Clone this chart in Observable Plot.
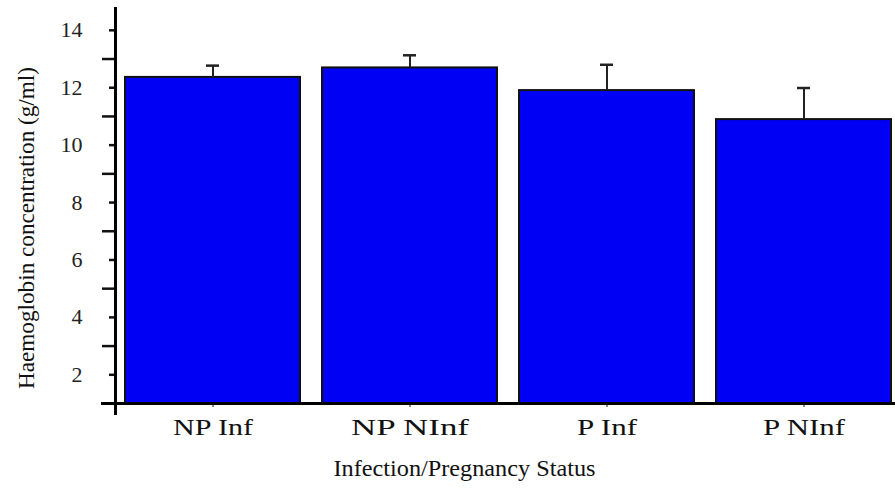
<!DOCTYPE html>
<html>
<head>
<meta charset="utf-8">
<script src="https://cdn.jsdelivr.net/npm/d3@7"></script>
<script src="https://cdn.jsdelivr.net/npm/@observablehq/plot@0.6"></script>
<style>
  html, body { margin: 0; padding: 0; background: #fff; }
  #chart svg { display: block; }
</style>
</head>
<body>
<div id="chart"></div>
<script>
const groups = ["NP Inf", "NP NInf", "P Inf", "P NInf"];
const means = [12.36, 12.69, 11.90, 10.89];
const errors = [0.41, 0.44, 0.90, 1.10];
const majorTicks = [2, 4, 6, 8, 10, 12, 14];
const minorTicks = [3, 5, 7, 9, 11, 13];
const yDomain = [1, 14.76];
const xTitle = "Infection/Pregnancy Status";
const yTitle = "Haemoglobin concentration (g/ml)";

// rendered text widths (px) to mimic the reference's wide serif lettering
const groupLabelWidths = [80, 118, 60, 82];
const titleWidths = {[xTitle]: 262, [yTitle]: 322};

const data = groups.map((g, i) => ({group: g, mean: means[i], upper: means[i] + errors[i]}));
const font = "'Liberation Serif', 'Times New Roman', serif";

const chart = Plot.plot({
  width: 895,
  height: 489,
  marginLeft: 115,
  marginRight: 0,
  marginTop: 8,
  marginBottom: 86,
  style: {fontFamily: font, fontSize: "22px", color: "#111", background: "#fff"},
  x: {domain: groups, paddingInner: 0.11, paddingOuter: 0.025, align: 0.7, axis: null},
  y: {domain: yDomain, axis: null},
  marks: [
    Plot.barY(data, {x: "group", y1: yDomain[0], y2: "mean", fill: "#0000f5", stroke: "#111", strokeWidth: 2}),
    Plot.ruleX(data, {x: "group", y1: "mean", y2: "upper", stroke: "#222", strokeWidth: 2}),
    Plot.tickY(data, {x: "group", y: "upper", stroke: "#222", strokeWidth: 2.5, insetLeft: 81, insetRight: 81}),
    Plot.axisY({ticks: minorTicks, tickSize: 13, tickFormat: () => "", label: null, strokeWidth: 2.5, stroke: "#111"}),
    Plot.axisY({ticks: majorTicks, tickSize: 6, tickFormat: () => "", label: null, strokeWidth: 2.5, stroke: "#111"}),
    Plot.text(majorTicks, {frameAnchor: "left", y: d => d, text: d => String(d), textAnchor: "end", dx: -33, fontSize: 22, fill: "#222"}),
    Plot.axisX({tickSize: 4, tickPadding: 11, label: null, fontSize: 23, fill: "#111"}),
    Plot.frame({anchor: "left", stroke: "#000", strokeWidth: 3, insetBottom: -10}),
    Plot.frame({anchor: "bottom", stroke: "#000", strokeWidth: 3, insetLeft: -13}),
    Plot.text([xTitle], {frameAnchor: "bottom", dx: -41, dy: 72, fontSize: 23, fill: "#111"}),
    Plot.text([yTitle], {frameAnchor: "left", textAnchor: "middle", rotate: -90, dx: -89, dy: 22, fontSize: 23, fill: "#111"})
  ]
});

// stretch the horizontal lettering to the reference widths
const widthByText = Object.assign({}, titleWidths);
groups.forEach((g, i) => widthByText[g] = groupLabelWidths[i]);
chart.querySelectorAll("text").forEach(t => {
  const w = widthByText[t.textContent];
  if (w) {
    t.setAttribute("textLength", w);
    t.setAttribute("lengthAdjust", "spacingAndGlyphs");
  }
});
document.getElementById("chart").appendChild(chart);
</script>
</body>
</html>
